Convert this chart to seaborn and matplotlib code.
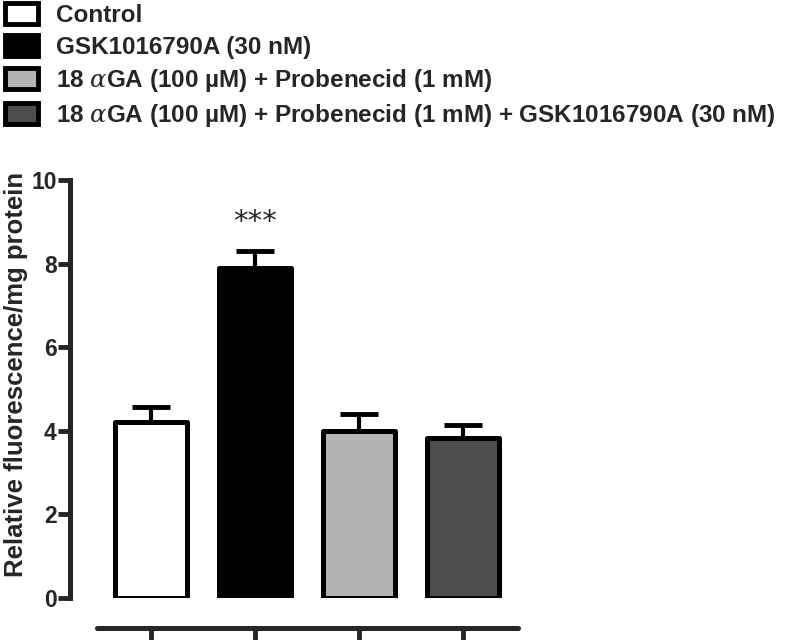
import seaborn as sns
import matplotlib.pyplot as plt
import pandas as pd
from matplotlib.patches import Patch

groups = ["Control", "GSK1016790A (30 nM)",
          "18 αGA (100 µM) + Probenecid (1 mM)",
          "18 αGA (100 µM) + Probenecid (1 mM) + GSK1016790A (30 nM)"]
legend_labels = ["Control", "GSK1016790A (30 nM)",
                 "18 $\\alpha$GA (100 µM) + Probenecid (1 mM)",
                 "18 $\\alpha$GA (100 µM) + Probenecid (1 mM) + GSK1016790A (30 nM)"]
means = [4.2, 7.9, 4.0, 3.83]
sems = [0.37, 0.4, 0.4, 0.31]
colors = ["#ffffff", "#000000", "#b3b3b3", "#4d4d4d"]

sns.set_style("ticks")
plt.rcParams['font.family'] = ['Liberation Sans', 'DejaVu Sans']
plt.rcParams['mathtext.fontset'] = 'custom'
plt.rcParams['mathtext.it'] = 'DejaVu Serif:italic'

df = pd.DataFrame({"group": groups, "value": means})

fig = plt.figure(figsize=(7.86, 6.4), dpi=100)
ax = fig.add_axes([0.089, 0.0656, 0.5795, 0.653])

sns.barplot(data=df, x="group", y="value", hue="group", palette=colors,
            order=groups, hue_order=groups, legend=False, width=0.7,
            edgecolor="black", linewidth=3.6, ax=ax, zorder=3)
for p in ax.patches:
    p.set_joinstyle("round")

eb = ax.errorbar(range(4), means, yerr=[[0] * 4, sems], fmt="none",
                 ecolor="black", elinewidth=3, capsize=14, capthick=3.5, zorder=2)
for c in eb[1]:
    c.set_solid_capstyle("round")

ax.text(1, 9.0, "***", ha="center", va="center", fontsize=21, family="DejaVu Sans")

ax.set_ylim(0, 10)
ax.set_xlim(-0.78, 3.6)
ax.set_yticks([0, 2, 4, 6, 8, 10])
ax.set_xticks(range(4))
ax.set_xticklabels([])
ax.set_xlabel("")
ax.set_ylabel("Relative fluorescence/mg protein", fontsize=18.5, fontweight="bold")
ax.yaxis.set_label_coords(-0.093, 0.535)
for lab in ax.get_yticklabels():
    lab.set_fontweight("bold")
ax.tick_params(axis="y", labelsize=16.5, width=3.5, length=8.5, pad=1)
ax.tick_params(axis="x", width=3.5, length=12)

sns.despine(ax=ax)
ax.spines["left"].set_linewidth(3.6)
ax.spines["bottom"].set_linewidth(3.6)
ax.spines["bottom"].set_position(("outward", 21.6))
ax.spines["bottom"].set_bounds(-0.52, 3.53)
ax.spines["bottom"].set_capstyle("round")

handles = [Patch(facecolor=c, edgecolor="black", linewidth=3.5) for c in colors]
fig.legend(handles, legend_labels, loc="upper left", bbox_to_anchor=(0.006, 0.995),
           frameon=False, handlelength=1.35, handleheight=0.95,
           handletextpad=0.75, labelspacing=0.33, borderpad=0.0, borderaxespad=0,
           prop={"weight": "bold", "size": 17.5})

fig.savefig("out.png", dpi=100)
